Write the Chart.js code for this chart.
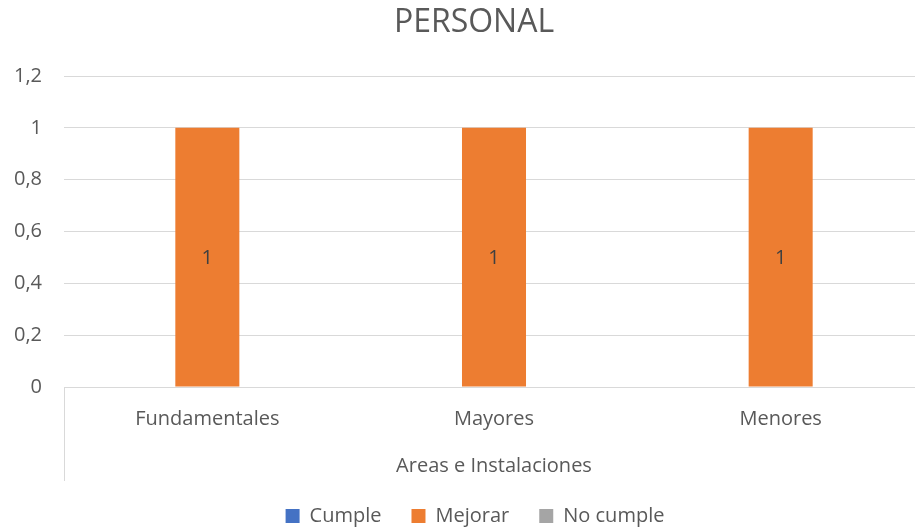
<!DOCTYPE html>
<html>
<head>
<meta charset="utf-8">
<script src="https://cdn.jsdelivr.net/npm/chart.js@4/dist/chart.umd.min.js"></script>
<style>
html,body{margin:0;padding:0;background:#fff;overflow:hidden;}
#wrap{width:915px;height:529px;position:relative;overflow:hidden;}
canvas{display:block;}
</style>
</head>
<body>
<div id="wrap"><canvas id="c" width="924" height="529"></canvas></div>
<script>
const chartTitle = 'PERSONAL';
const categories = ['Fundamentales', 'Mayores', 'Menores'];
const axisTitle = 'Areas e Instalaciones';
const cumple = [0, 0, 0];
const mejorar = [1, 1, 1];
const noCumple = [0, 0, 0];
const yTickLabels = ['0', '0,2', '0,4', '0,6', '0,8', '1', '1,2'];

const FONT = '"Open Sans"';
const GREY = '#595959';

const titlePlugin = {
  id: 'excelTitle',
  afterLayout(chart) {
    if (chart.legend) {
      chart.legend.left += 13;
      chart.legend.right += 13;
    }
  },
  afterDraw(chart) {
    const ctx = chart.ctx;
    ctx.save();
    ctx.font = '32px ' + FONT;
    ctx.fillStyle = GREY;
    ctx.textAlign = 'center';
    ctx.textBaseline = 'middle';
    ctx.fillText(chartTitle, 474, 23);
    ctx.restore();
  }
};

const extrasPlugin = {
  id: 'extras',
  afterDatasetsDraw(chart) {
    const ctx = chart.ctx;
    const a = chart.chartArea;
    ctx.save();
    ctx.strokeStyle = '#d9d9d9';
    ctx.lineWidth = 1;
    ctx.beginPath();
    ctx.moveTo(Math.round(a.left) + 0.5, a.bottom);
    ctx.lineTo(Math.round(a.left) + 0.5, a.bottom + 94);
    ctx.stroke();
    const meta = chart.getDatasetMeta(1);
    ctx.font = '20px ' + FONT;
    ctx.fillStyle = '#404040';
    ctx.textAlign = 'center';
    ctx.textBaseline = 'middle';
    meta.data.forEach((bar, i) => {
      const v = chart.data.datasets[1].data[i];
      const p = bar.getProps(['x', 'y', 'base'], true);
      ctx.fillText(String(v), p.x, (p.y + p.base) / 2 + 1);
    });
    ctx.restore();
  }
};

new Chart(document.getElementById('c'), {
  type: 'bar',
  data: {
    labels: categories,
    datasets: [
      { label: 'Cumple', data: cumple, backgroundColor: '#4472C4' },
      { label: 'Mejorar', data: mejorar, backgroundColor: '#ED7D31' },
      { label: 'No cumple', data: noCumple, backgroundColor: '#A5A5A5' }
    ]
  },
  options: {
    responsive: false,
    animation: false,
    devicePixelRatio: 1,
    datasets: { bar: { barPercentage: 1.0, categoryPercentage: 0.67 } },
    layout: { padding: { top: 76, right: 0, left: 0, bottom: -7 } },
    plugins: {
      title: { display: false },
      tooltip: { enabled: false },
      legend: {
        position: 'bottom',
        labels: {
          font: { family: FONT, size: 20, lineHeight: 0.4 },
          color: GREY,
          boxWidth: 14,
          boxHeight: 14,
          padding: 30
        }
      }
    },
    scales: {
      x: {
        grid: { display: false, drawTicks: false },
        border: { display: true, color: '#d9d9d9' },
        ticks: { font: { family: FONT, size: 20 }, color: GREY, padding: 20 },
        title: { display: true, text: axisTitle, font: { family: FONT, size: 20 }, color: GREY, padding: { top: 3, bottom: -2 } }
      },
      y: {
        min: 0,
        max: 1.2,
        afterFit: (s) => { s.width = 64; },
        ticks: {
          stepSize: 0.2,
          font: { family: FONT, size: 20 },
          color: GREY,
          padding: 22,
          callback: (v, i) => yTickLabels[i]
        },
        grid: { color: '#d9d9d9', drawTicks: false },
        border: { display: false }
      }
    }
  },
  plugins: [titlePlugin, extrasPlugin]
});
</script>
</body>
</html>
